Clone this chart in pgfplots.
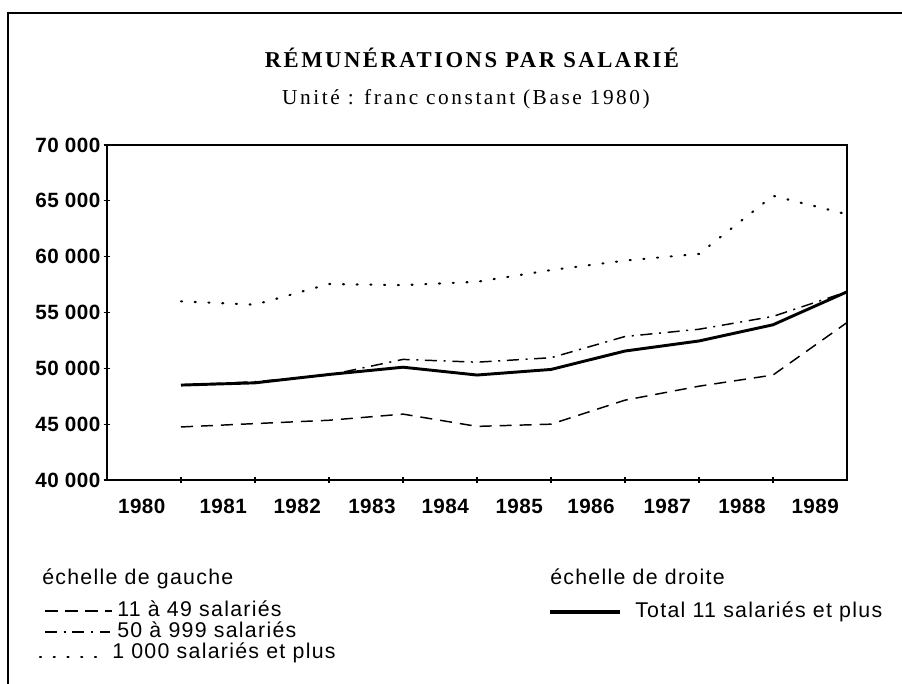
\documentclass[border=0pt]{standalone}
\usepackage{fontspec}
\setmainfont{Liberation Sans}
\newfontfamily\ticksf[LetterSpace=2]{Liberation Sans}
\newfontfamily\legsf[LetterSpace=6]{Liberation Sans}
\newfontfamily\titlerm[LetterSpace=11]{Liberation Serif}
\newfontfamily\subrm[LetterSpace=12]{Liberation Serif}
\usepackage{pgfplots}
\usepackage{pgfplotstable}
\pgfplotsset{compat=1.18}

% remunerations par salarie, francs constants 1980
\pgfplotstableread{
x  total  mid    small  big
1  48500  48500  44750  56000
2  48700  48800  45050  55700
3  49450  49400  45350  57550
4  50100  50800  45900  57450
5  49400  50550  44800  57750
6  49900  50950  45000  58800
7  51550  52850  47150  59650
8  52450  53500  48400  60250
9  53900  54650  49400  65450
10 56850  56850  54100  63800
}\remu

\begin{document}
\begin{tikzpicture}
\path[use as bounding box] (0,0) rectangle (676.5pt,513pt);
\begin{axis}[
  at={(80.25pt,153pt)}, anchor=south west,
  scale only axis, width=555pt, height=251.25pt,
  xmin=0, xmax=10, ymin=40000, ymax=70000,
  scaled y ticks=false,
  axis line style={line width=1.1pt},
  tick style={line width=0.9pt, black},
  tick align=center, major tick length=5pt,
  xtick={1,...,9}, xticklabels={},
  extra x ticks={0.47,1.57,2.57,3.58,4.57,5.57,6.54,7.57,8.58,9.57},
  extra x tick labels={1980,1981,1982,1983,1984,1985,1986,1987,1988,1989},
  extra x tick style={major tick length=0pt},
  ytick={40000,45000,...,70000},
  yticklabels={40 000,45 000,50 000,55 000,60 000,65 000,70 000},
  xtick pos=bottom, ytick pos=left,
  ticklabel style={font=\ticksf\bfseries\fontsize{15.5}{18}\selectfont},
  xticklabel shift=11pt, yticklabel shift=-1pt,
  clip=false, no markers,
]
\addplot[black, line width=1.1pt, dash pattern=on 9pt off 6pt] table[x=x,y=small]{\remu};
\addplot[black, line width=1.1pt, dash pattern=on 9pt off 5pt on 1.5pt off 5pt] table[x=x,y=mid]{\remu};
\addplot[black, line width=1.6pt, line cap=round, dash pattern=on 0.8pt off 9.5pt] table[x=x,y=big]{\remu};
\addplot[black, line width=2.2pt] table[x=x,y=total]{\remu};
\end{axis}

\begin{scope}[x=0.75pt,y=-0.75pt,shift={(0pt,513pt)}]
% frame
\draw[line width=1.1pt] (8,684) -- (8,13) -- (902,13);
% titles
\node[anchor=base, inner sep=0pt, font=\titlerm\bfseries\fontsize{17}{20}\selectfont] at (472,68) {RÉMUNÉRATIONS PAR SALARIÉ};
\node[anchor=base, inner sep=0pt, font=\subrm\fontsize{16}{19}\selectfont] at (466,105) {Unité : franc constant (Base 1980)};
% legend, left scale
\begin{scope}[every node/.style={anchor=base west, inner sep=0pt, font=\legsf\fontsize{16}{18}\selectfont}]
\node at (42,585) {échelle de gauche};
\draw[line width=1.1pt, dash pattern=on 10pt off 5pt] (45,611) -- (112,611);
\node at (117,617) {11 à 49 salariés};
\draw[line width=1.1pt, dash pattern=on 9pt off 5pt on 1.5pt off 5pt] (45,632) -- (110,632);
\node at (117,638) {50 à 999 salariés};
\draw[line width=1.6pt, line cap=round, dash pattern=on 0.8pt off 9.5pt] (40,657) -- (106,657);
\node at (112,659) {1 000 salariés et plus};
% right scale
\node at (550,585) {échelle de droite};
\draw[line width=2.6pt] (550,612) -- (620,612);
\node at (635,618) {Total 11 salariés et plus};
\end{scope}
\end{scope}
\end{tikzpicture}
\end{document}
